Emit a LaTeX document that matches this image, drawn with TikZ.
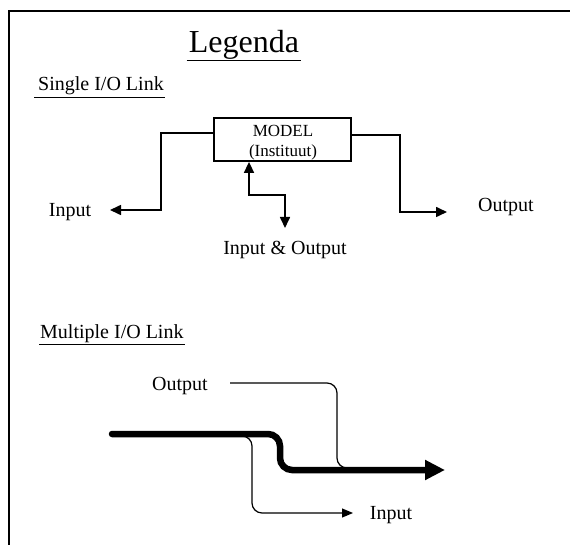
\documentclass[tikz,border=0pt]{standalone}
\usepackage{fontspec}
\setmainfont{Liberation Serif}
\usetikzlibrary{arrows.meta,calc}
\begin{document}
\begin{tikzpicture}[x=1pt,y=-1pt,
  lbl/.style={font=\fontsize{20}{24}\selectfont, inner sep=0pt, anchor=base},
  hd/.style={font=\fontsize{20}{24}\selectfont, inner sep=0pt, anchor=base west},
  boxtxt/.style={font=\fontsize{17}{20}\selectfont, inner sep=0pt, anchor=base},
  sconn/.style={line width=1.6pt, -{Triangle[length=11pt,width=10pt]}},
  biconn/.style={line width=1.6pt, {Triangle[length=11pt,width=10pt]}-{Triangle[length=11pt,width=10pt]}},
  mconn/.style={line width=1.2pt, rounded corners=10pt},
  thick/.style={line width=6.5pt, rounded corners=12pt, line cap=round, -{Triangle[length=20pt,width=19pt]}},
  uline/.style={line width=1pt}
]
\useasboundingbox (0,0) rectangle (570,545);
% frame
\draw[line width=1.5pt] (9,545) -- (9,11) -- (570,11);

% title and headings
\node[lbl, font=\fontsize{32}{36}\selectfont] (title) at (244,53) {Legenda};
\draw[uline] ($(title.base west)+(-2,8)$) -- ($(title.base east)+(2,8)$);
\node[hd] (single) at (38,91) {Single I/O Link};
\draw[uline] ($(single.base west)+(-4,7)$) -- ($(single.base east)+(1,7)$);

% single I/O link
\node[draw, line width=1.8pt, minimum width=137pt, minimum height=43pt, inner sep=0pt] (model) at (282.5,139.5) {};
\node[boxtxt] (mtxt) at (283,137) {MODEL};
\node[boxtxt] (itxt) at (283,157) {(Instituut)};

\node[lbl] (inL) at (70,217) {Input};
\node[lbl] (outR) at (506,212) {Output};
\node[lbl] (io) at (285,255) {Input \& Output};

\coordinate (inLtip) at (110,210);
\coordinate (outRtip) at (447,212);
\coordinate (iotip) at (285,228);

\draw[sconn] ([yshift=6.5pt]model.west) -| (161,210) -- (inLtip);
\draw[sconn] ([yshift=4.5pt]model.east) -| (400,212) -- (outRtip);
\draw[biconn] ([xshift=-33.5pt]model.south) |- (285,195) -- (iotip);

% multiple I/O link
\node[hd] (multi) at (40,338) {Multiple I/O Link};
\draw[uline] ($(multi.base west)+(-1,6)$) -- ($(multi.base east)+(1,6)$);

\coordinate (ms) at (112,434);
\coordinate (me) at (445,470);
\draw[thick] (ms) -| (280,470) -- (me);

\node[lbl] (outM) at (180,390) {Output};
\node[lbl] (inM) at (391,519) {Input};

\coordinate (outMs) at (230,383);
\coordinate (inMtip) at (353,513);
\draw[mconn] (outMs) -| (337,468) -- (352,468);
\draw[mconn, -{Triangle[length=11pt,width=9pt]}] (238,436) -| (252,513) -- (inMtip);
\end{tikzpicture}
\end{document}
